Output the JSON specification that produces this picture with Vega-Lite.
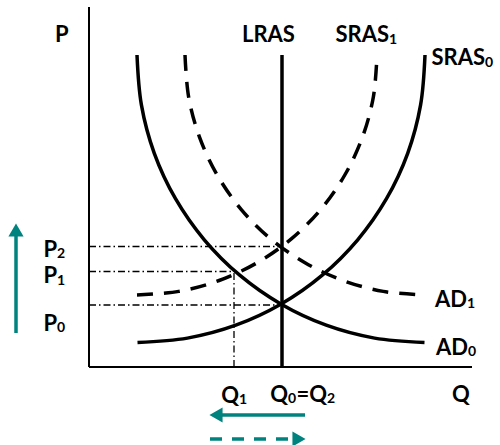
{
  "$schema": "https://vega.github.io/schema/vega-lite/v6.json",
  "width": 383,
  "height": 360,
  "autosize": {"type": "none"},
  "padding": {"left": 89, "top": 7, "right": 28, "bottom": 78},
  "background": "white",
  "config": {"view": {"stroke": null}},
  "encoding": {
    "x": {"field": "q", "type": "quantitative", "scale": {"domain": [0, 38.3], "nice": false, "zero": false}, "axis": null},
    "y": {"field": "p", "type": "quantitative", "scale": {"domain": [0, 36], "nice": false, "zero": false}, "axis": null}
  },
  "layer": [
    {
      "data": {"values": [
        {"name": "P2", "q": 0, "p": 12.05, "q2": 19.2, "p2": 12.05},
        {"name": "P1", "q": 0, "p": 9.55, "q2": 14.6, "p2": 9.55},
        {"name": "P0", "q": 0, "p": 6.2, "q2": 19.3, "p2": 6.2},
        {"name": "Q1", "q": 14.5, "p": 0, "q2": 14.5, "p2": 9.55}
      ]},
      "mark": {"type": "rule", "color": "black", "strokeWidth": 1.3, "strokeDash": [7, 3, 1.5, 3]},
      "encoding": {"x2": {"field": "q2"}, "y2": {"field": "p2"}}
    },
    {
      "data": {"values": [
        {"name": "Paxis", "q": 0, "p": 0, "q2": 0, "p2": 36},
        {"name": "Qaxis", "q": 0, "p": 0, "q2": 38.3, "p2": 0}
      ]},
      "mark": {"type": "rule", "color": "black", "strokeWidth": 2},
      "encoding": {"x2": {"field": "q2"}, "y2": {"field": "p2"}}
    },
    {
      "data": {"values": [
        {"name": "LRAS", "q": 19.3, "p": 0, "q2": 19.3, "p2": 31.2}
      ]},
      "mark": {"type": "rule", "color": "black", "strokeWidth": 3.5},
      "encoding": {"x2": {"field": "q2"}, "y2": {"field": "p2"}}
    },
    {
      "data": {"values": [
        {"curve": "AD0", "q": 4.80, "p": 31.20},
        {"curve": "AD0", "q": 5.24, "p": 26.21},
        {"curve": "AD0", "q": 6.53, "p": 21.37},
        {"curve": "AD0", "q": 8.65, "p": 16.83},
        {"curve": "AD0", "q": 11.53, "p": 12.72},
        {"curve": "AD0", "q": 15.07, "p": 9.18},
        {"curve": "AD0", "q": 19.18, "p": 6.30},
        {"curve": "AD0", "q": 23.72, "p": 4.18},
        {"curve": "AD0", "q": 28.56, "p": 2.89},
        {"curve": "AD0", "q": 33.55, "p": 2.45},
        {"curve": "SRAS0", "q": 33.60, "p": 31.20},
        {"curve": "SRAS0", "q": 33.16, "p": 26.21},
        {"curve": "SRAS0", "q": 31.87, "p": 21.37},
        {"curve": "SRAS0", "q": 29.75, "p": 16.83},
        {"curve": "SRAS0", "q": 26.87, "p": 12.72},
        {"curve": "SRAS0", "q": 23.33, "p": 9.18},
        {"curve": "SRAS0", "q": 19.22, "p": 6.30},
        {"curve": "SRAS0", "q": 14.68, "p": 4.18},
        {"curve": "SRAS0", "q": 9.84, "p": 2.89},
        {"curve": "SRAS0", "q": 4.85, "p": 2.45}
      ]},
      "mark": {"type": "line", "color": "black", "strokeWidth": 3.5, "interpolate": "catmull-rom"},
      "encoding": {"detail": {"field": "curve", "type": "nominal"}}
    },
    {
      "data": {"values": [
        {"curve": "AD1", "q": 9.60, "p": 31.20},
        {"curve": "AD1", "q": 9.96, "p": 27.03},
        {"curve": "AD1", "q": 11.05, "p": 22.99},
        {"curve": "AD1", "q": 12.82, "p": 19.20},
        {"curve": "AD1", "q": 15.21, "p": 15.77},
        {"curve": "AD1", "q": 18.17, "p": 12.81},
        {"curve": "AD1", "q": 21.60, "p": 10.42},
        {"curve": "AD1", "q": 25.39, "p": 8.65},
        {"curve": "AD1", "q": 29.43, "p": 7.56},
        {"curve": "AD1", "q": 33.60, "p": 7.20},
        {"curve": "SRAS1", "q": 28.80, "p": 31.20},
        {"curve": "SRAS1", "q": 28.44, "p": 27.03},
        {"curve": "SRAS1", "q": 27.35, "p": 22.99},
        {"curve": "SRAS1", "q": 25.58, "p": 19.20},
        {"curve": "SRAS1", "q": 23.19, "p": 15.77},
        {"curve": "SRAS1", "q": 20.23, "p": 12.81},
        {"curve": "SRAS1", "q": 16.80, "p": 10.42},
        {"curve": "SRAS1", "q": 13.01, "p": 8.65},
        {"curve": "SRAS1", "q": 8.97, "p": 7.56},
        {"curve": "SRAS1", "q": 4.80, "p": 7.20}
      ]},
      "mark": {"type": "line", "color": "black", "strokeWidth": 3.5, "strokeDash": [16, 11], "interpolate": "catmull-rom"},
      "encoding": {"detail": {"field": "curve", "type": "nominal"}}
    },
    {
      "data": {"values": [
        {"name": "price", "q": -7.3, "p": 3.4, "q2": -7.3, "p2": 13.2},
        {"name": "quantity", "q": 21.6, "p": -4.8, "q2": 12.8, "p2": -4.8}
      ]},
      "mark": {"type": "rule", "color": "#00827F", "strokeWidth": 3.5},
      "encoding": {"x2": {"field": "q2"}, "y2": {"field": "p2"}}
    },
    {
      "data": {"values": [
        {"name": "quantity back", "q": 12.1, "p": -7.2, "q2": 20.6, "p2": -7.2}
      ]},
      "mark": {"type": "rule", "color": "#00827F", "strokeWidth": 3.5, "strokeDash": [12, 10]},
      "encoding": {"x2": {"field": "q2"}, "y2": {"field": "p2"}}
    },
    {
      "data": {"values": [
        {"dir": "up", "q": -7.3, "p": 13.7},
        {"dir": "left", "q": 12.7, "p": -4.8},
        {"dir": "right", "q": 21.0, "p": -7.2}
      ]},
      "mark": {"type": "point", "filled": true, "color": "#00827F", "opacity": 1, "size": 230},
      "encoding": {"shape": {"field": "dir", "type": "nominal", "scale": {"domain": ["up", "left", "right"], "range": ["triangle-up", "triangle-left", "triangle-right"]}, "legend": null}}
    },
    {
      "data": {"values": [
        {"label": "P", "q": -3.4, "p": 32.5},
        {"label": "LRAS", "q": 15.3, "p": 32.5},
        {"label": "Q", "q": 36.3, "p": -3.5}
      ]},
      "mark": {"type": "text", "font": "Lato", "fontWeight": "bold", "fontSize": 22, "color": "black", "align": "left", "baseline": "alphabetic"},
      "encoding": {"text": {"field": "label"}}
    },
    {
      "data": {"values": [
        {"label": "SRAS", "q": 30.0, "p": 32.5},
        {"label": "SRAS", "q": 39.6, "p": 30.2},
        {"label": "AD", "q": 37.8, "p": 6.0},
        {"label": "AD", "q": 37.9, "p": 1.2},
        {"label": "P", "q": -3.2, "p": 11.05},
        {"label": "P", "q": -3.2, "p": 8.4},
        {"label": "P", "q": -3.2, "p": 3.6},
        {"label": "Q", "q": 15.0, "p": -3.6},
        {"label": "Q", "q": 19.9, "p": -3.5},
        {"label": "=Q", "q": 23.8, "p": -3.5}
      ]},
      "mark": {"type": "text", "font": "Lato", "fontWeight": "bold", "fontSize": 22, "color": "black", "align": "right", "baseline": "alphabetic"},
      "encoding": {"text": {"field": "label"}}
    },
    {
      "data": {"values": [
        {"label": "1", "q": 30.0, "p": 32.3},
        {"label": "0", "q": 39.6, "p": 30.0},
        {"label": "1", "q": 37.8, "p": 5.9},
        {"label": "0", "q": 37.9, "p": 1.1},
        {"label": "2", "q": -3.2, "p": 10.9},
        {"label": "1", "q": -3.2, "p": 8.25},
        {"label": "0", "q": -3.2, "p": 3.5},
        {"label": "1", "q": 15.0, "p": -3.7},
        {"label": "0", "q": 19.9, "p": -3.6},
        {"label": "2", "q": 23.8, "p": -3.6}
      ]},
      "mark": {"type": "text", "font": "Lato", "fontWeight": "bold", "fontSize": 14, "color": "black", "align": "left", "baseline": "alphabetic"},
      "encoding": {"text": {"field": "label"}}
    }
  ]
}
